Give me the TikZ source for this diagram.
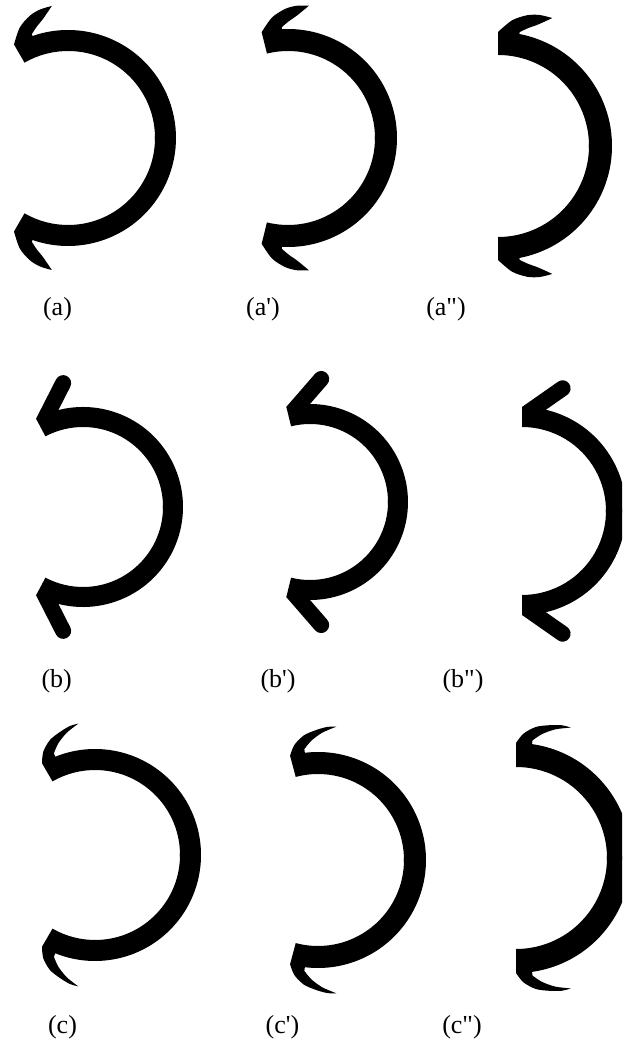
\documentclass[tikz,border=0pt]{standalone}
\usepackage{fontspec}
\setmainfont{Liberation Serif}[Ligatures=TeXOff]
\tikzset{
  lbl/.style={inner sep=0pt, font=\fontsize{26}{31}\selectfont},
  ink/.style={fill=black}
}
% curved crescent barb (row a)
\newcommand\glyphA[5]{%
 \begin{scope}[shift={(#1,1045-#2)}]
  \foreach \s in {1,-1}{
   \begin{scope}[yscale=\s]
    \fill[ink] (-1:#3) arc[start angle=-1,end angle=#5,radius=#3] -- (#5:#4)
      -- plot[smooth] coordinates {(#5:#4) ({#5-6.4}:{#4+12.5}) ({#5-12.6}:{#4+20}) ({#5-17.7}:{#4+23.5}) ({#5-23}:{#4+25})}
      -- plot[smooth] coordinates {({#5-23}:{#4+25}) ({#5-18.3}:{#4+14}) ({#5-14.3}:{#4+7.6}) ({#5-10.8}:{#4+2})}
      -- ({#5-10.8}:#4) arc[start angle={#5-10.8},end angle=-1,radius=#4] -- cycle;
   \end{scope}}
 \end{scope}}
% thin hooked barb (row c)
\newcommand\glyphC[5]{%
 \begin{scope}[shift={(#1,1045-#2)}]
  \foreach \s in {1,-1}{
   \begin{scope}[yscale=\s]
    \fill[ink] (-1:#3) arc[start angle=-1,end angle=#5,radius=#3] -- (#5:#4)
      -- plot[smooth] coordinates {(#5:#4) ({#5-3.4}:{#4+9.5}) ({#5-8.6}:{#4+17.5}) ({#5-14.2}:{#4+22}) ({#5-19}:{#4+25.4}) ({#5-22.8}:{#4+26.5})}
      -- plot[smooth] coordinates {({#5-22.8}:{#4+26.5}) ({#5-17}:{#4+19.5}) ({#5-11.8}:{#4+11.5}) ({#5-8}:{#4+3.7})}
      -- ({#5-8}:#4) arc[start angle={#5-8},end angle=-1,radius=#4] -- cycle;
   \end{scope}}
 \end{scope}}
% straight round-ended barb (row b)
\newcommand\glyphB[5]{%
 \begin{scope}[shift={(#1,1045-#2)}]
  \foreach \s in {1,-1}{
   \begin{scope}[yscale=\s]
    \fill[ink] (-1:#3) arc[start angle=-1,end angle=#5,radius=#3] -- (#5:#4)
      arc[start angle=#5,end angle=-1,radius=#4] -- cycle;
    \fill[ink,shift={(#5:#4)},rotate={#5-55}] (0,0) -- (44,0)
      arc[start angle=90,end angle=-90,radius=8] -- (0,-16) -- cycle;
   \end{scope}}
 \end{scope}}
\begin{document}
\begin{tikzpicture}[x=1pt,y=1pt]
\useasboundingbox (0,0) rectangle (622,1045);
\fill[white] (0,0) rectangle (622,1045);
\clip (0,0) rectangle (622,1045);
% row a
\glyphA{68}{138}{87}{108}{120}
\glyphA{288}{138}{87}{109}{104}
\glyphA{498}{146}{91}{114}{90}
% row b
\glyphB{83}{507}{80}{100}{118}
\glyphB{310}{502}{78}{98}{104}
\glyphB{522}{511}{84}{104}{90}
% row c
\glyphC{95}{855}{85}{106}{120}
\glyphC{318}{860}{86}{108}{105}
\glyphC{516}{858}{91}{115}{90}
% labels
\node[lbl] (la)  at (57.5,1045-309) {(a)};
\node[lbl] (la1) at (263,1045-309) {(a')};
\node[lbl] (la2) at (446,1045-309) {(a")};
\node[lbl] (lb)  at (56.7,1045-681) {(b)};
\node[lbl] (lb1) at (278,1045-681) {(b')};
\node[lbl] (lb2) at (463,1045-681) {(b")};
\node[lbl] (lc)  at (62.5,1045-1027) {(c)};
\node[lbl] (lc1) at (282.5,1045-1027) {(c')};
\node[lbl] (lc2) at (462,1045-1027) {(c")};
\end{tikzpicture}
\end{document}
